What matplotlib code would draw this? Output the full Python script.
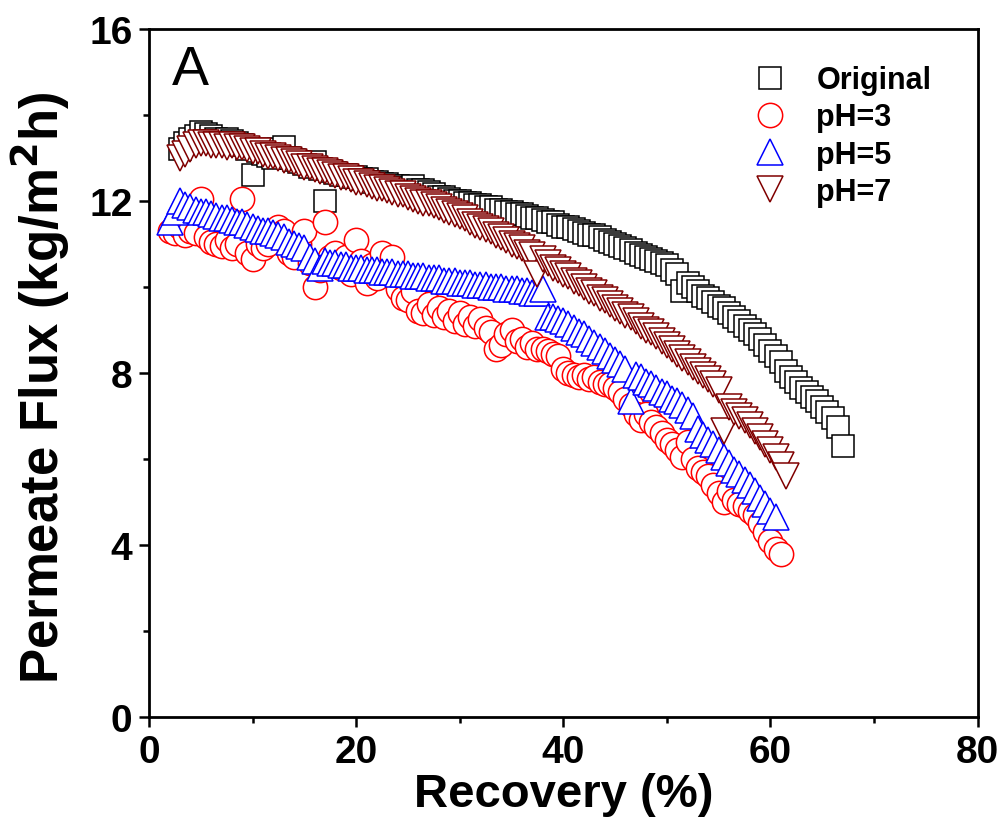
import matplotlib
matplotlib.use("Agg")
import matplotlib.pyplot as plt
from matplotlib.ticker import MultipleLocator

plt.rcParams['font.family'] = ['Liberation Sans', 'DejaVu Sans']

# recovery (%) and permeate flux (kg/m2h)
orig_x = [3.0, 3.5, 4.0, 4.5, 5.0, 5.5, 6.0, 6.5, 7.0, 7.5, 8.0, 8.5, 9.0, 9.5, 10.0, 10.5,
          11.0, 11.5, 12.0, 12.5, 13.0, 13.5, 14.0, 14.5, 15.0, 15.5, 16.0, 16.5, 17.0, 17.5,
          18.0, 18.5, 19.0, 19.5, 20.0, 20.5, 21.0, 21.5, 22.0, 22.5, 23.0, 23.5, 24.0, 24.5,
          25.0, 25.5, 26.0, 26.5, 27.0, 27.5, 28.0, 28.5, 29.0, 29.5, 30.0, 30.5, 31.0, 31.5,
          32.0, 32.5, 33.0, 33.5, 34.0, 34.5, 35.0, 35.5, 36.0, 36.5, 37.0, 37.5, 38.0, 38.5,
          39.0, 39.5, 40.0, 40.5, 41.0, 41.5, 42.0, 42.5, 43.0, 43.5, 44.0, 44.5, 45.0, 45.5,
          46.0, 46.5, 47.0, 47.5, 48.0, 48.5, 49.0, 49.5, 50.0, 50.5, 51.0, 51.5, 52.0, 52.5,
          53.0, 53.5, 54.0, 54.5, 55.0, 55.5, 56.0, 56.5, 57.0, 57.5, 58.0, 58.5, 59.0, 59.5,
          60.0, 60.5, 61.0, 61.5, 62.0, 62.5, 63.0, 63.5, 64.0, 64.5, 65.0, 65.5, 66.0, 66.5,
          67.0]
orig_y = [13.20, 13.35, 13.45, 13.50, 13.60, 13.55, 13.50, 13.45, 13.40, 13.45, 13.40, 13.35,
          13.30, 13.20, 12.60, 13.15, 13.10, 13.05, 13.00, 13.20, 13.25, 13.00, 12.95, 12.90,
          12.85, 12.80, 12.90, 12.75, 12.00, 12.70, 12.65, 12.60, 12.60, 12.55, 12.55, 12.50,
          12.50, 12.45, 12.45, 12.40, 12.40, 12.35, 12.35, 12.30, 12.30, 12.35, 12.25, 12.25,
          12.20, 12.15, 12.10, 12.10, 12.05, 12.00, 12.00, 11.95, 11.95, 11.90, 11.90, 11.85,
          11.85, 11.80, 11.80, 11.75, 11.75, 11.70, 11.70, 11.65, 11.60, 11.60, 11.55, 11.50,
          11.50, 11.45, 11.40, 11.40, 11.35, 11.30, 11.25, 11.20, 11.20, 11.15, 11.10, 11.05,
          11.00, 10.95, 10.90, 10.85, 10.80, 10.75, 10.70, 10.65, 10.60, 10.55, 10.50, 10.40,
          10.30, 9.90, 10.10, 10.00, 9.90, 9.80, 9.75, 9.65, 9.55, 9.50, 9.40, 9.30, 9.20,
          9.10, 9.00, 8.90, 8.80, 8.65, 8.50, 8.40, 8.25, 8.05, 7.90, 7.80, 7.65, 7.55, 7.45,
          7.35, 7.20, 7.10, 6.95, 6.75, 6.30]

ph3_x = [2.0, 2.5, 3.0, 3.5, 4.0, 4.5, 5.0, 5.5, 6.0, 6.5, 7.0, 7.5, 8.0, 8.5, 9.0, 9.5, 10.0,
         10.5, 11.0, 11.5, 12.0, 12.5, 13.0, 13.5, 14.0, 14.5, 15.0, 15.5, 16.0, 16.5, 17.0,
         17.5, 18.0, 18.5, 19.0, 19.5, 20.0, 20.5, 21.0, 21.5, 22.0, 22.5, 23.0, 23.5, 24.0,
         24.5, 25.0, 25.5, 26.0, 26.5, 27.0, 27.5, 28.0, 28.5, 29.0, 29.5, 30.0, 30.5, 31.0,
         31.5, 32.0, 32.5, 33.0, 33.5, 34.0, 34.5, 35.0, 35.5, 36.0, 36.5, 37.0, 37.5, 38.0,
         38.5, 39.0, 39.5, 40.0, 40.5, 41.0, 41.5, 42.0, 42.5, 43.0, 43.5, 44.0, 44.5, 45.0,
         45.5, 46.0, 46.5, 47.0, 47.5, 48.0, 48.5, 49.0, 49.5, 50.0, 50.5, 51.0, 51.5, 52.0,
         52.5, 53.0, 53.5, 54.0, 54.5, 55.0, 55.5, 56.0, 56.5, 57.0, 57.5, 58.0, 58.5, 59.0,
         59.5, 60.0, 60.5, 61.0]
ph3_y = [11.30, 11.25, 11.40, 11.20, 11.30, 11.25, 12.05, 11.15, 11.05, 11.00, 10.95, 11.10,
         10.90, 11.00, 12.05, 10.80, 10.65, 11.00, 10.90, 11.00, 11.20, 11.40, 11.30, 10.80,
         10.70, 11.00, 11.30, 10.55, 10.00, 10.40, 11.50, 10.70, 10.80, 10.45, 10.70, 10.30,
         11.10, 10.60, 10.10, 10.50, 10.20, 10.80, 10.40, 10.70, 9.95, 9.75, 9.70, 9.90, 9.45,
         9.40, 9.60, 9.35, 9.50, 9.30, 9.45, 9.20, 9.40, 9.15, 9.30, 9.10, 9.25, 9.05, 8.95,
         8.55, 8.65, 8.90, 9.00, 8.75, 8.80, 8.60, 8.70, 8.55, 8.55, 8.50, 8.45, 8.40, 8.10,
         8.00, 7.95, 7.90, 7.95, 7.85, 7.90, 7.80, 7.75, 7.75, 7.65, 7.55, 7.40, 7.25, 7.05,
         6.90, 7.05, 6.85, 6.75, 6.60, 6.45, 6.35, 6.20, 6.05, 6.40, 6.00, 5.80, 5.70, 5.60,
         5.40, 5.20, 5.00, 5.25, 5.05, 4.95, 4.90, 4.80, 4.70, 4.50, 4.30, 4.10, 3.90, 3.80]

ph5_x = [2.0, 2.5, 3.0, 3.5, 4.0, 4.5, 5.0, 5.5, 6.0, 6.5, 7.0, 7.5, 8.0, 8.5, 9.0, 9.5, 10.0,
         10.5, 11.0, 11.5, 12.0, 12.5, 13.0, 13.5, 14.0, 14.5, 15.0, 15.5, 16.0, 16.5, 17.0,
         17.5, 18.0, 18.5, 19.0, 19.5, 20.0, 20.5, 21.0, 21.5, 22.0, 22.5, 23.0, 23.5, 24.0,
         24.5, 25.0, 25.5, 26.0, 26.5, 27.0, 27.5, 28.0, 28.5, 29.0, 29.5, 30.0, 30.5, 31.0,
         31.5, 32.0, 32.5, 33.0, 33.5, 34.0, 34.5, 35.0, 35.5, 36.0, 36.5, 37.0, 37.5, 38.0,
         38.5, 39.0, 39.5, 40.0, 40.5, 41.0, 41.5, 42.0, 42.5, 43.0, 43.5, 44.0, 44.5, 45.0,
         45.5, 46.0, 46.5, 47.0, 47.5, 48.0, 48.5, 49.0, 49.5, 50.0, 50.5, 51.0, 51.5, 52.0,
         52.5, 53.0, 53.5, 54.0, 54.5, 55.0, 55.5, 56.0, 56.5, 57.0, 57.5, 58.0, 58.5, 59.0,
         59.5, 60.0, 60.5]
ph5_y = [11.50, 11.75, 12.00, 11.90, 11.85, 11.80, 11.75, 11.75, 11.70, 11.65, 11.60, 11.60,
         11.55, 11.50, 11.50, 11.45, 11.40, 11.35, 11.30, 11.30, 11.25, 11.20, 11.15, 11.05,
         11.00, 10.95, 10.90, 10.70, 10.60, 10.45, 10.60, 10.55, 10.55, 10.50, 10.50, 10.45,
         10.45, 10.45, 10.40, 10.40, 10.40, 10.35, 10.35, 10.35, 10.30, 10.30, 10.30, 10.25,
         10.25, 10.25, 10.20, 10.20, 10.20, 10.15, 10.15, 10.15, 10.10, 10.10, 10.10, 10.05,
         10.05, 10.05, 10.00, 10.00, 10.00, 9.95, 9.95, 9.95, 9.90, 9.90, 9.85, 9.85, 9.95,
         9.30, 9.30, 9.25, 9.20, 9.15, 9.05, 8.95, 8.90, 8.80, 8.70, 8.60, 8.50, 8.40, 8.30,
         8.20, 8.10, 7.35, 7.95, 7.90, 7.80, 7.75, 7.65, 7.55, 7.50, 7.40, 7.35, 7.25, 7.15,
         7.00, 6.70, 6.55, 6.45, 6.35, 6.20, 6.05, 5.90, 5.75, 5.65, 5.50, 5.40, 5.25, 5.10,
         4.95, 4.80, 4.65]

ph7_x = [3.0, 3.5, 4.0, 4.5, 5.0, 5.5, 6.0, 6.5, 7.0, 7.5, 8.0, 8.5, 9.0, 9.5, 10.0, 10.5,
         11.0, 11.5, 12.0, 12.5, 13.0, 13.5, 14.0, 14.5, 15.0, 15.5, 16.0, 16.5, 17.0, 17.5,
         18.0, 18.5, 19.0, 19.5, 20.0, 20.5, 21.0, 21.5, 22.0, 22.5, 23.0, 23.5, 24.0, 24.5,
         25.0, 25.5, 26.0, 26.5, 27.0, 27.5, 28.0, 28.5, 29.0, 29.5, 30.0, 30.5, 31.0, 31.5,
         32.0, 32.5, 33.0, 33.5, 34.0, 34.5, 35.0, 35.5, 36.0, 36.5, 37.0, 37.5, 38.0, 38.5,
         39.0, 39.5, 40.0, 40.5, 41.0, 41.5, 42.0, 42.5, 43.0, 43.5, 44.0, 44.5, 45.0, 45.5,
         46.0, 46.5, 47.0, 47.5, 48.0, 48.5, 49.0, 49.5, 50.0, 50.5, 51.0, 51.5, 52.0, 52.5,
         53.0, 53.5, 54.0, 54.5, 55.0, 55.5, 56.0, 56.5, 57.0, 57.5, 58.0, 58.5, 59.0, 59.5,
         60.0, 60.5, 61.0, 61.5]
ph7_y = [13.00, 13.10, 13.20, 13.30, 13.35, 13.35, 13.30, 13.30, 13.30, 13.25, 13.30, 13.25,
         13.25, 13.20, 13.15, 13.15, 13.10, 13.05, 13.05, 13.00, 12.95, 12.95, 12.90, 12.85,
         12.80, 12.80, 12.75, 12.70, 12.70, 12.65, 12.60, 12.55, 12.55, 12.50, 12.45, 12.45,
         12.40, 12.35, 12.30, 12.30, 12.25, 12.20, 12.15, 12.15, 12.10, 12.05, 12.00, 11.95,
         11.95, 11.90, 11.85, 11.80, 11.75, 11.70, 11.65, 11.60, 11.50, 11.45, 11.40, 11.35,
         11.30, 11.20, 11.15, 11.10, 11.00, 10.95, 10.90, 10.80, 10.75, 10.30, 10.65, 10.55,
         10.45, 10.40, 10.30, 10.25, 10.15, 10.10, 10.00, 9.90, 9.85, 9.75, 9.70, 9.60, 9.50,
         9.45, 9.35, 9.30, 9.20, 9.10, 9.00, 8.95, 8.85, 8.75, 8.65, 8.55, 8.45, 8.35, 8.25,
         8.15, 8.05, 7.95, 7.85, 7.75, 7.60, 6.65, 7.20, 7.10, 7.00, 6.90, 6.80, 6.65, 6.50,
         6.35, 6.20, 6.05, 5.85, 5.60]

fig = plt.figure(figsize=(10.03, 8.29), dpi=100)
ax = fig.add_axes([0.1486, 0.1339, 0.826, 0.830])

ax.plot(orig_x, orig_y, ls='none', marker='s', ms=16, mew=1.1, mec='black', mfc='white', label='Original')
ax.plot(ph3_x, ph3_y, ls='none', marker='o', ms=17.5, mew=1.1, mec='#ff0000', mfc='white', label='pH=3')
ax.plot(ph5_x, ph5_y, ls='none', marker='^', ms=19, mew=1.1, mec='#0000ff', mfc='white', label='pH=5')
ax.plot(ph7_x, ph7_y, ls='none', marker='v', ms=19, mew=1.1, mec='#800000', mfc='white', label='pH=7')

ax.set_xlim(0, 80)
ax.set_ylim(0, 16)
ax.xaxis.set_major_locator(MultipleLocator(20))
ax.xaxis.set_minor_locator(MultipleLocator(10))
ax.yaxis.set_major_locator(MultipleLocator(4))
ax.yaxis.set_minor_locator(MultipleLocator(2))
ax.tick_params(which='major', direction='out', length=7, width=1.8, labelsize=28, pad=5)
ax.tick_params(which='minor', direction='out', length=4.5, width=1.8)
for lab in ax.get_xticklabels() + ax.get_yticklabels():
    lab.set_fontweight('bold')
for s in ax.spines.values():
    s.set_linewidth(2.0)

ax.set_xlabel('Recovery (%)', fontsize=34, fontweight='bold', labelpad=2)
ax.set_ylabel('Permeate Flux (kg/m$\\mathbf{^2}$h)', fontsize=38, fontweight='bold')
ax.yaxis.set_label_coords(-0.093, 0.48)

ax.text(0.028, 0.978, 'A', transform=ax.transAxes, fontsize=40, va='top', ha='left')

leg = ax.legend(loc='upper right', bbox_to_anchor=(0.97, 0.978), frameon=False,
                prop={'size': 22, 'weight': 'bold'}, handletextpad=0.78, labelspacing=0.23,
                handlelength=1.5, borderpad=0.2)

fig.savefig('out.png', dpi=100)
